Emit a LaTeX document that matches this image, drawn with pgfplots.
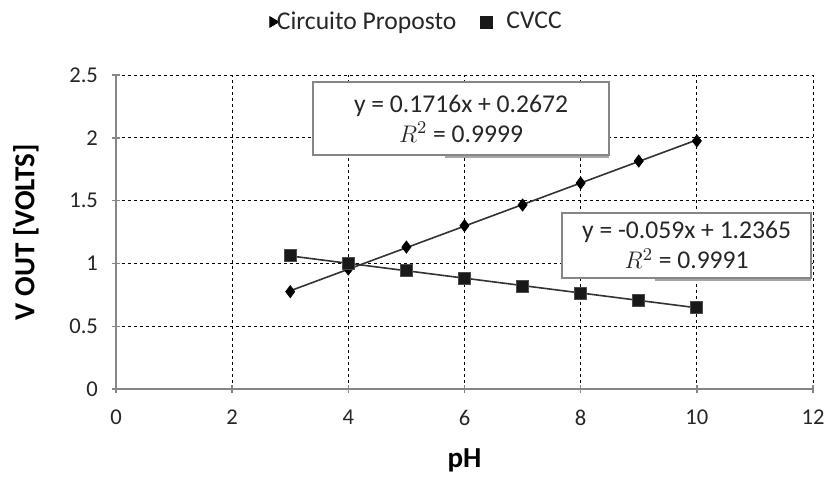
\documentclass[border=0pt]{standalone}
\usepackage{fontspec}
\setmainfont{Carlito}
\usepackage{pgfplots}
\pgfplotsset{compat=1.18}

\definecolor{axisgray}{HTML}{868686}
\definecolor{trendgray}{HTML}{333333}
\definecolor{txt}{HTML}{262626}

\begin{document}
\begin{tikzpicture}
\useasboundingbox (-58pt,-44pt) rectangle (354.5pt,194.5pt);
\begin{axis}[
  scale only axis,
  width=348.5pt, height=157pt,
  xmin=0, xmax=12, ymin=0, ymax=2.5,
  xtick={0,2,...,12}, ytick={0,0.5,...,2.5},
  axis x line*=bottom, axis y line*=left,
  axis line style={axisgray, line width=0.7pt, -},
  tick style={axisgray, line width=0.7pt},
  major tick length=4pt, tick align=center,
  grid=major,
  major grid style={black, line width=0.5pt, dash pattern=on 1.5pt off 1.5pt},
  /pgf/number format/assume math mode=true,
  tick label style={font=\fontsize{11.3}{13}\selectfont, text=txt},
  xticklabel style={yshift=-5pt},
  yticklabel style={xshift=-3.5pt},
  xlabel={\bfseries pH},
  ylabel={\bfseries V OUT [VOLTS]},
  label style={font=\fontsize{14.5}{16}\selectfont, text=black},
  xlabel style={at={(0.5,-44pt+5pt)}, anchor=base},
  ylabel style={at={(-45pt,0.5)}, anchor=center},
  clip=false,
  legend columns=2,
  legend style={at={(0.433,1.169)}, anchor=center, draw=none, fill=none,
    font=\fontsize{12.8}{14}\selectfont, text=txt,
    /tikz/every even column/.append style={column sep=10pt},
    /tikz/every odd column/.append style={column sep=-3pt}},
  legend cell align=left,
]
% Circuito Proposto measurements
\addplot[only marks, mark=diamond*, mark size=3pt, black, forget plot]
  coordinates {(3,0.775) (4,0.955) (5,1.13) (6,1.30) (7,1.465) (8,1.64) (9,1.815) (10,1.975)};
% linear fit y = 0.1716x + 0.2672
\addplot[trendgray, line width=0.8pt, forget plot]
  coordinates {(3,0.7820) (10,1.9832)};
% CVCC measurements
\addplot[only marks, mark=square*, mark size=3pt, black!90, mark options={draw=black!70}, forget plot]
  coordinates {(3,1.065) (4,1.00) (5,0.945) (6,0.882) (7,0.82) (8,0.762) (9,0.707) (10,0.65)};
% linear fit y = -0.059x + 1.2365
\addplot[trendgray, line width=0.8pt, forget plot]
  coordinates {(3,1.0595) (10,0.6465)};

\addlegendimage{only marks, mark=triangle*, mark size=3pt, black, mark options={rotate=-90}}
\addlegendentry{Circuito Proposto}
\addlegendimage{only marks, mark=square*, mark size=3pt, black!90}
\addlegendentry{\hspace{8pt}CVCC}

% fit-equation labels
\fill[gray!70] (axis cs:5.66,1.863) ++(0,-1.6pt) rectangle (axis cs:8.49,1.863);
\draw[axisgray, line width=0.8pt, fill=white] (axis cs:3.39,1.863) rectangle (axis cs:8.49,2.444);
\node[align=center, font=\fontsize{12.8}{15}\selectfont, text=txt] at (axis cs:5.94,2.1535)
  {y = 0.1716x + 0.2672\\$R^2$ = 0.9999};

\fill[gray!70] (axis cs:9.28,0.884) ++(0,-1.6pt) rectangle (axis cs:11.97,0.884);
\draw[axisgray, line width=0.8pt, fill=white] (axis cs:7.68,0.884) rectangle (axis cs:11.97,1.402);
\node[align=center, font=\fontsize{12.8}{15}\selectfont, text=txt] at (axis cs:9.825,1.143)
  {y = -0.059x + 1.2365\\$R^2$ = 0.9991};
\end{axis}
\end{tikzpicture}
\end{document}
